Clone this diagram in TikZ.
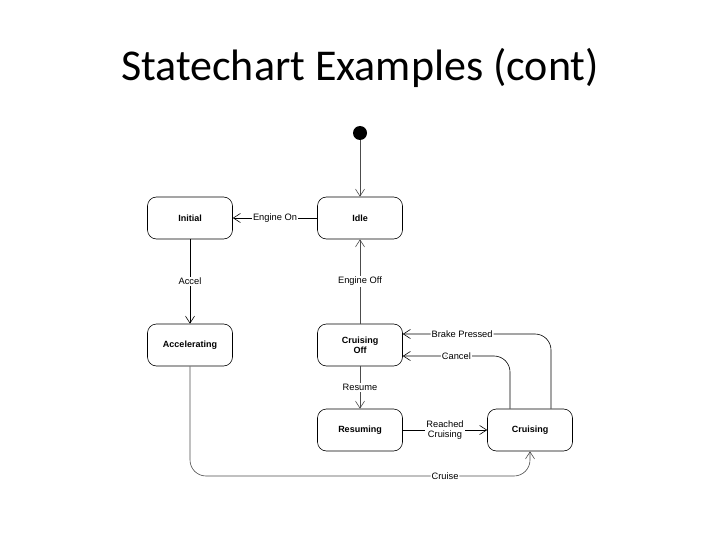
\documentclass[tikz,border=0pt]{standalone}
\usepackage{fontspec}
\setmainfont{Liberation Sans}
\newfontfamily\titlefont{Carlito}
\usetikzlibrary{arrows.meta,calc}
\begin{document}
\begin{tikzpicture}[x=1pt,y=-1pt,
  state/.style={draw=black,line width=0.6pt,rounded corners=9pt,minimum width=85pt,minimum height=42pt,align=center,font=\fontsize{9}{10}\selectfont\bfseries,inner sep=1pt},
  tr/.style={line width=0.6pt,-{Straight Barb[length=7pt,width=9pt]}},
  lab/.style={fill=white,inner sep=1pt,font=\fontsize{9.3}{10}\selectfont,align=center},
  gr/.style={draw=black!70}]
\useasboundingbox (0,0) rectangle (720,540);
\node[font=\titlefont\fontsize{44}{50}\selectfont] (title) at (360,68) {Statechart Examples (cont)};
\node[circle,fill=black,minimum size=14pt,inner sep=0pt] (start) at (360,133) {};
\node[state] (initial) at (190,218) {Initial};
\node[state] (idle) at (360,218) {Idle};
\node[state] (accel) at (190,345) {Accelerating};
\node[state] (croff) at (360,345) {Cruising\\Off};
\node[state] (resuming) at (360,430) {Resuming};
\node[state] (cruising) at (530,430) {Cruising};
\coordinate (cruisebot) at (530,476);

\draw[tr,gr] (start) -- (idle);
\draw[tr] (idle) -- node[lab]{Engine On} (initial);
\draw[tr] (initial) -- node[lab]{Accel} (accel);
\draw[tr,gr] (croff) -- node[lab]{Engine Off} (idle);
\draw[tr,gr] (croff) -- node[lab]{Resume} (resuming);
\draw[tr] (resuming) -- node[lab]{Reached\\Cruising} (cruising);
\draw[tr,rounded corners=16pt] ([xshift=-20pt]cruising.north) |- node[lab,pos=0.75]{Cancel} ([yshift=-11pt]croff.east);
\draw[tr,rounded corners=16pt] ([xshift=21pt]cruising.north) |- node[lab,pos=0.8]{Brake Pressed} ([yshift=11pt]croff.east);
\draw[tr,gr,rounded corners=16pt] (accel.south) |- node[lab,pos=0.875]{Cruise} (cruisebot) -- (cruising.south);
\end{tikzpicture}
\end{document}
